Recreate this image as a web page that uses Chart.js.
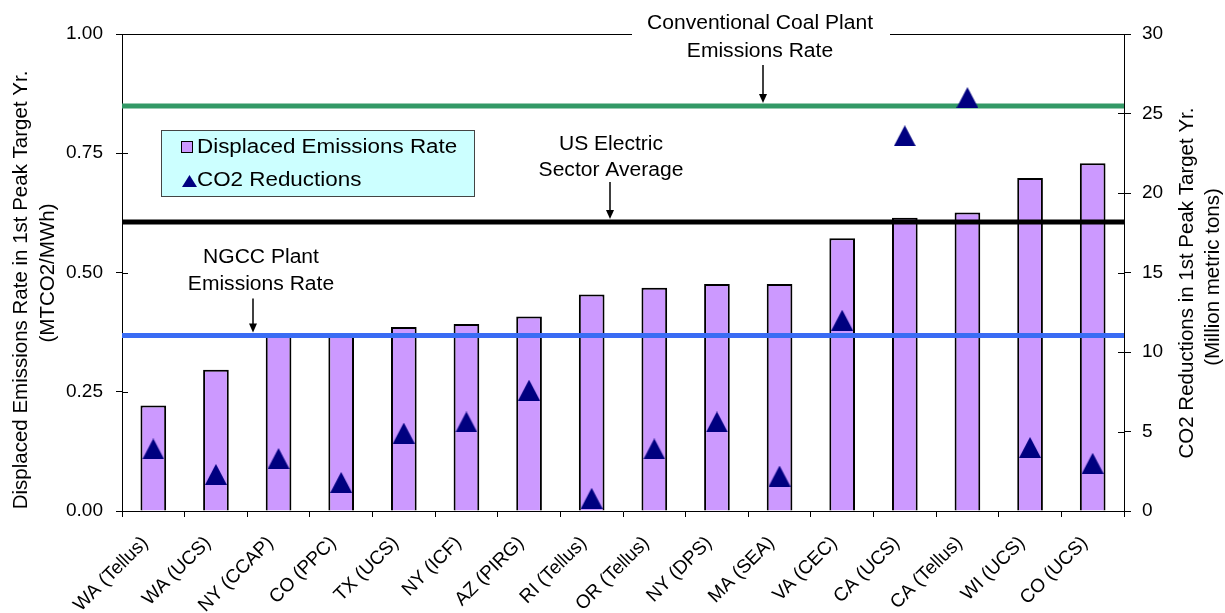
<!DOCTYPE html>
<html>
<head>
<meta charset="utf-8">
<script src="https://cdn.jsdelivr.net/npm/chart.js@4.4.1/dist/chart.umd.min.js"></script>
<style>
  html, body { margin: 0; padding: 0; background: #fff; }
  canvas { display: block; }
</style>
</head>
<body>
<canvas id="emissionsChart" width="1225" height="613"></canvas>
<script>
// data
const categories = [
    "WA (Tellus)", "WA (UCS)", "NY (CCAP)", "CO (PPC)", "TX (UCS)", "NY (ICF)",
    "AZ (PIRG)", "RI (Tellus)", "OR (Tellus)", "NY (DPS)", "MA (SEA)", "VA (CEC)",
    "CA (UCS)", "CA (Tellus)", "WI (UCS)", "CO (UCS)"
];
const displacedRate = [0.221, 0.296, 0.368, 0.368, 0.386, 0.392, 0.408, 0.454,
                       0.468, 0.476, 0.476, 0.572, 0.615, 0.626, 0.698, 0.729];
const co2Reductions = [3.9, 2.3, 3.3, 1.8, 4.9, 5.6, 7.6, 0.8,
                       3.9, 5.6, 2.2, 12.0, 23.6, 26.0, 4.0, 3.0];
const leftTicks = [0, 0.25, 0.5, 0.75, 1];
const rightTicks = [0, 5, 10, 15, 20, 25, 30];
const referenceLabels = [
    ["Conventional Coal Plant", "Emissions Rate"],
    ["US Electric", "Sector Average"],
    ["NGCC Plant", "Emissions Rate"]
];
const referenceRates = [0.849, 0.606, 0.368];

const FONT = "'Liberation Sans', Arial, sans-serif";
Chart.defaults.font.family = FONT;
Chart.defaults.color = "#000";

const lineColors = ["#339966", "#000000", "#3a6cf4"];
// where each callout sits: text centre, arrow x, offsets above its line
const callouts = [
    { textX: 760, arrowX: 763, base1: -77, base2: -49, arrowTop: -41 },
    { textX: 611, arrowX: 610, base1: -72, base2: -46, arrowTop: -40 },
    { textX: 261, arrowX: 253, base1: -72, base2: -45, arrowTop: -37 }
];

function makeTriangle(w, h, color) {
    const c = document.createElement("canvas");
    c.width = w;
    c.height = h;
    const g = c.getContext("2d");
    g.fillStyle = color;
    g.beginPath();
    g.moveTo(w / 2, 0);
    g.lineTo(w, h);
    g.lineTo(0, h);
    g.closePath();
    g.fill();
    return c;
}

// the source picture is a little wider than plain Arial, so stretch text
function wideText(ctx, text, x, y, align, stretch) {
    ctx.save();
    ctx.translate(x, y);
    ctx.scale(stretch, 1);
    ctx.textAlign = align;
    ctx.fillText(text, 0, 0);
    ctx.restore();
}

function upText(ctx, text, x, y) {
    ctx.save();
    ctx.translate(x, y);
    ctx.rotate(-Math.PI / 2);
    ctx.textAlign = "center";
    ctx.textBaseline = "middle";
    ctx.fillText(text, 0, 0);
    ctx.restore();
}

const excelLook = {
    id: "excelLook",

    // reference lines go over the bars but under the triangles
    afterDatasetDraw(chart, args) {
        if (args.meta.type !== "bar") return;
        const ctx = chart.ctx;
        const area = chart.chartArea;
        const y = chart.scales.y;
        ctx.save();
        ctx.lineWidth = 5;
        referenceRates.forEach((rate, i) => {
            const py = y.getPixelForValue(rate);
            ctx.strokeStyle = lineColors[i];
            ctx.beginPath();
            ctx.moveTo(area.left, py);
            ctx.lineTo(area.right, py);
            ctx.stroke();
        });
        ctx.restore();
    },

    afterDraw(chart) {
        const ctx = chart.ctx;
        const area = chart.chartArea;
        const y = chart.scales.y;
        const y1 = chart.scales.y1;

        ctx.save();
        ctx.strokeStyle = "#000";
        ctx.lineWidth = 1;

        // top of the plot frame
        ctx.beginPath();
        ctx.moveTo(area.left, Math.round(area.top) + 0.5);
        ctx.lineTo(area.right, Math.round(area.top) + 0.5);
        ctx.stroke();

        // inner half of the cross tick marks
        ctx.beginPath();
        y.ticks.forEach(t => {
            const py = Math.round(y.getPixelForValue(t.value)) + 0.5;
            ctx.moveTo(area.left, py);
            ctx.lineTo(area.left + 6, py);
        });
        y1.ticks.forEach(t => {
            const py = Math.round(y1.getPixelForValue(t.value)) + 0.5;
            ctx.moveTo(area.right, py);
            ctx.lineTo(area.right - 6, py);
        });
        ctx.stroke();

        // callouts with arrows
        ctx.fillStyle = "#000";
        ctx.textBaseline = "alphabetic";
        ctx.font = "19.5px " + FONT;
        referenceRates.forEach((rate, i) => {
            const py = y.getPixelForValue(rate);
            const c = callouts[i];
            const lines = referenceLabels[i];
            if (i === 0) {
                // the coal label sits on the frame, on a white patch
                ctx.fillStyle = "#fff";
                ctx.fillRect(632, area.top - 4, 258, 8);
                ctx.fillStyle = "#000";
            }
            wideText(ctx, lines[0], c.textX, py + c.base1, "center", 1.08);
            wideText(ctx, lines[1], c.textX, py + c.base2, "center", 1.08);

            const tip = py - 3;
            ctx.lineWidth = 1.5;
            ctx.beginPath();
            ctx.moveTo(c.arrowX, py + c.arrowTop);
            ctx.lineTo(c.arrowX, tip - 6);
            ctx.stroke();
            ctx.beginPath();
            ctx.moveTo(c.arrowX - 4, tip - 9);
            ctx.lineTo(c.arrowX + 4, tip - 9);
            ctx.lineTo(c.arrowX, tip);
            ctx.closePath();
            ctx.fill();
        });

        // legend box
        const sets = chart.data.datasets;
        const bars = sets.find(d => d.type === "bar");
        const marks = sets.find(d => d.type === "line");
        ctx.fillStyle = "#CCFFFF";
        ctx.fillRect(162, 130.5, 312, 66);
        ctx.strokeStyle = "#444";
        ctx.lineWidth = 1;
        ctx.strokeRect(161.5, 130.5, 313, 66);

        ctx.fillStyle = bars.backgroundColor;
        ctx.fillRect(181.5, 141.5, 11, 11);
        ctx.strokeStyle = "#000";
        ctx.strokeRect(181.5, 141.5, 11, 11);
        ctx.drawImage(legendTriangle, 182, 175);

        ctx.fillStyle = "#000";
        ctx.font = "20px " + FONT;
        wideText(ctx, bars.label, 197, 152.7, "left", 1.12);
        wideText(ctx, marks.label, 197, 185.7, "left", 1.12);

        // axis titles
        ctx.font = "20.5px " + FONT;
        upText(ctx, "Displaced Emissions Rate in 1st Peak Target Yr.", 21, 290);
        upText(ctx, "(MTCO2/MWh)", 48, 273);
        upText(ctx, "CO2 Reductions in 1st Peak Target Yr.", 1187, 283);
        upText(ctx, "(Million metric tons)", 1213, 277);

        ctx.restore();
    }
};

const triangle = makeTriangle(22, 21, "#000080");
const legendTriangle = makeTriangle(15, 12, "#000080");

const ctx = document.getElementById("emissionsChart").getContext("2d");

const chart = new Chart(ctx, {
    type: "bar",

    data: {
        labels: categories,
        datasets: [
            {
                type: "line",
                label: "CO2 Reductions",
                data: co2Reductions,
                yAxisID: "y1",
                showLine: false,
                pointStyle: triangle,
                pointRadius: 11,
                pointHoverRadius: 11,
                order: 0
            },
            {
                type: "bar",
                label: "Displaced Emissions Rate",
                data: displacedRate,
                yAxisID: "y",
                backgroundColor: "#CC99FF",
                borderColor: "#000",
                borderWidth: 2,
                barPercentage: 0.41,
                categoryPercentage: 1,
                order: 1
            }
        ]
    },

    options: {
        responsive: false,
        animation: false,
        events: [],
        layout: {
            padding: { top: 34, left: 0, right: 0, bottom: 0 }
        },
        plugins: {
            legend: { display: false },
            tooltip: { enabled: false }
        },
        scales: {
            x: {
                grid: {
                    offset: true,
                    drawOnChartArea: false,
                    tickLength: 6,
                    color: "#000"
                },
                border: { color: "#000", width: 1 },
                ticks: {
                    autoSkip: false,
                    minRotation: 45,
                    maxRotation: 45,
                    padding: 15,
                    labelOffset: -8,
                    font: { size: 19 }
                },
                afterFit: s => { s.height = 102; }
            },
            y: {
                position: "left",
                min: 0,
                max: 1,
                afterBuildTicks: s => { s.ticks = leftTicks.map(v => ({ value: v })); },
                ticks: {
                    callback: v => v.toFixed(2),
                    padding: 13,
                    font: { size: 19 }
                },
                grid: {
                    drawOnChartArea: false,
                    tickLength: 6,
                    color: "#000"
                },
                border: { color: "#000", width: 1 },
                afterFit: s => { s.width = 122; }
            },
            y1: {
                position: "right",
                min: 0,
                max: 30,
                afterBuildTicks: s => { s.ticks = rightTicks.map(v => ({ value: v })); },
                ticks: {
                    padding: 11,
                    font: { size: 19 }
                },
                grid: {
                    drawOnChartArea: false,
                    tickLength: 7,
                    color: "#000"
                },
                border: { color: "#000", width: 1 },
                afterFit: s => { s.width = 101; }
            }
        }
    },

    plugins: [excelLook]
});
</script>
</body>
</html>
